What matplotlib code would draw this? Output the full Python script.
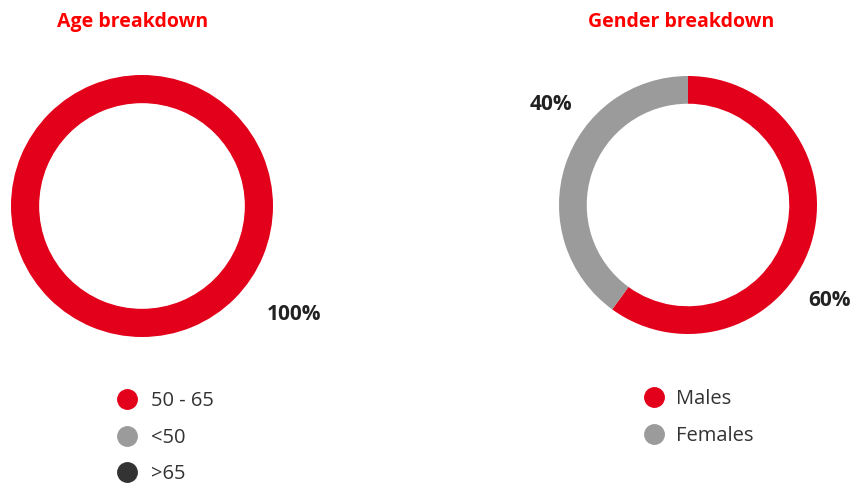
import matplotlib
matplotlib.use('Agg')
import matplotlib.pyplot as plt
from matplotlib.lines import Line2D

RED = '#e2001a'
GREY = '#9b9b9b'
DARK = '#333333'

age_labels = ['50 - 65', '<50', '>65']
age_values = [100, 0, 0]
age_colors = [RED, GREY, DARK]

gender_labels = ['Males', 'Females']
gender_values = [60, 40]
gender_colors = [RED, GREY]

plt.rcParams['font.family'] = ['Open Sans', 'DejaVu Sans']

W, H = 854, 483
fig = plt.figure(figsize=(W / 100, H / 100), dpi=100)


def px_axes(cx, cy, r):
    # axes box in pixel coords (origin top left)
    return fig.add_axes([(cx - r) / W, (H - cy - r) / H, 2 * r / W, 2 * r / H])


def donut(ax, values, colors):
    vals = [v for v in values if v > 0]
    cols = [c for v, c in zip(values, colors) if v > 0]
    ax.pie(vals, colors=cols, startangle=90, counterclock=False,
           radius=1, wedgeprops=dict(width=0.215, linewidth=0))
    ax.set_xlim(-1, 1)
    ax.set_ylim(-1, 1)
    ax.set_aspect('equal')
    ax.axis('off')


ax1 = px_axes(142, 206, 131)
donut(ax1, age_values, age_colors)
ax2 = px_axes(688, 205, 129)
donut(ax2, gender_values, gender_colors)

title_kw = dict(color='#ff0000', fontsize=14, fontweight='bold', ha='center', va='center')
fig.text(133 / W, 1 - 22 / H, 'Age breakdown', **title_kw)
fig.text(681 / W, 1 - 22 / H, 'Gender breakdown', **title_kw)

pct_kw = dict(color='#222222', fontsize=15, fontweight='bold', ha='center', va='center')
fig.text(294 / W, 1 - 314 / H, f'{age_values[0]}%', **pct_kw)
fig.text(830 / W, 1 - 300 / H, f'{gender_values[0]}%', **pct_kw)
fig.text(551 / W, 1 - 104 / H, f'{gender_values[1]}%', **pct_kw)


def legend(labels, colors, x, y, pad):
    handles = [Line2D([], [], marker='o', linestyle='', markersize=14,
                      markerfacecolor=c, markeredgecolor=c) for c in colors]
    fig.legend(handles, labels, loc='upper left', bbox_to_anchor=(x / W, 1 - y / H),
               frameon=False, fontsize=14.5, labelcolor='#333333',
               handletextpad=pad, labelspacing=0.82, borderaxespad=0)


legend(age_labels, age_colors, 99, 383, 0.2)
legend(gender_labels, gender_colors, 626, 381, 0.1)

fig.savefig('out.png', dpi=100, facecolor='white')
